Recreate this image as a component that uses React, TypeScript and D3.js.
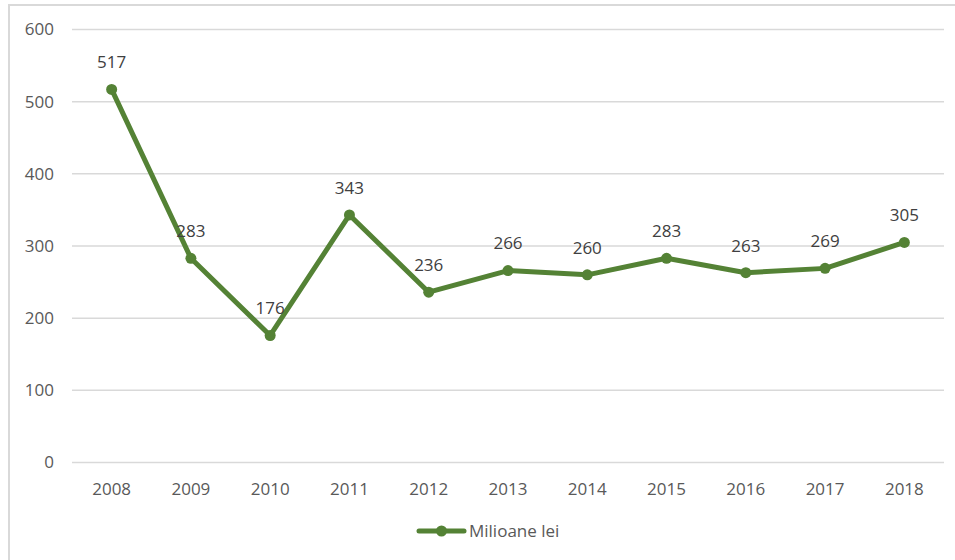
import React from "react";
import * as d3 from "d3";

const years = ["2008","2009","2010","2011","2012","2013","2014","2015","2016","2017","2018"];
const values = [517, 283, 176, 343, 236, 266, 260, 283, 263, 269, 305];
const yTicks = [0, 100, 200, 300, 400, 500, 600];
const seriesName = "Milioane lei";

export default function App() {
  const W = 955, H = 560;
  const left = 72, right = 944;
  const x = d3.scalePoint<string>().domain(years).range([left, right]).padding(0.5);
  const y = d3.scaleLinear().domain([0, 600]).range([462.5, 29.5]);
  const color = "#548235";
  const line = d3.line<number>().x((_, i) => x(years[i])!).y(d => y(d));
  const font = "'Open Sans', sans-serif";
  const fs = 17;
  return (
    <svg width={W} height={H} style={{ position: "absolute", left: 0, top: 0, background: "#fff" }} fontFamily={font}>
      <rect x={9} y={5} width={1000} height={600} fill="#fff" stroke="#d9d9d9" strokeWidth={2} />
      {yTicks.map(t => (
        <g key={t}>
          <line x1={left} x2={right} y1={y(t)} y2={y(t)} stroke="#d9d9d9" strokeWidth={1.5} />
          <text x={54} y={y(t)} dy="0.35em" textAnchor="end" fontSize={fs} fill="#595959">{t}</text>
        </g>
      ))}
      {years.map(yr => (
        <text key={yr} x={x(yr)} y={489} dy="0.35em" textAnchor="middle" fontSize={fs} fill="#595959">{yr}</text>
      ))}
      <path d={line(values)!} fill="none" stroke={color} strokeWidth={5} strokeLinejoin="round" strokeLinecap="round" />
      {values.map((v, i) => (
        <g key={i}>
          <circle cx={x(years[i])} cy={y(v)} r={5.5} fill={color} />
          <text x={x(years[i])} y={y(v) - 27} dy="0.35em" textAnchor="middle" fontSize={fs} fill="#404040">{v}</text>
        </g>
      ))}
      <g>
        <line x1={419} x2={464} y1={531} y2={531} stroke={color} strokeWidth={5} strokeLinecap="round" />
        <circle cx={441.5} cy={531} r={5.5} fill={color} />
        <text x={469} y={531} dy="0.35em" fontSize={fs} fill="#595959">{seriesName}</text>
      </g>
    </svg>
  );
}
